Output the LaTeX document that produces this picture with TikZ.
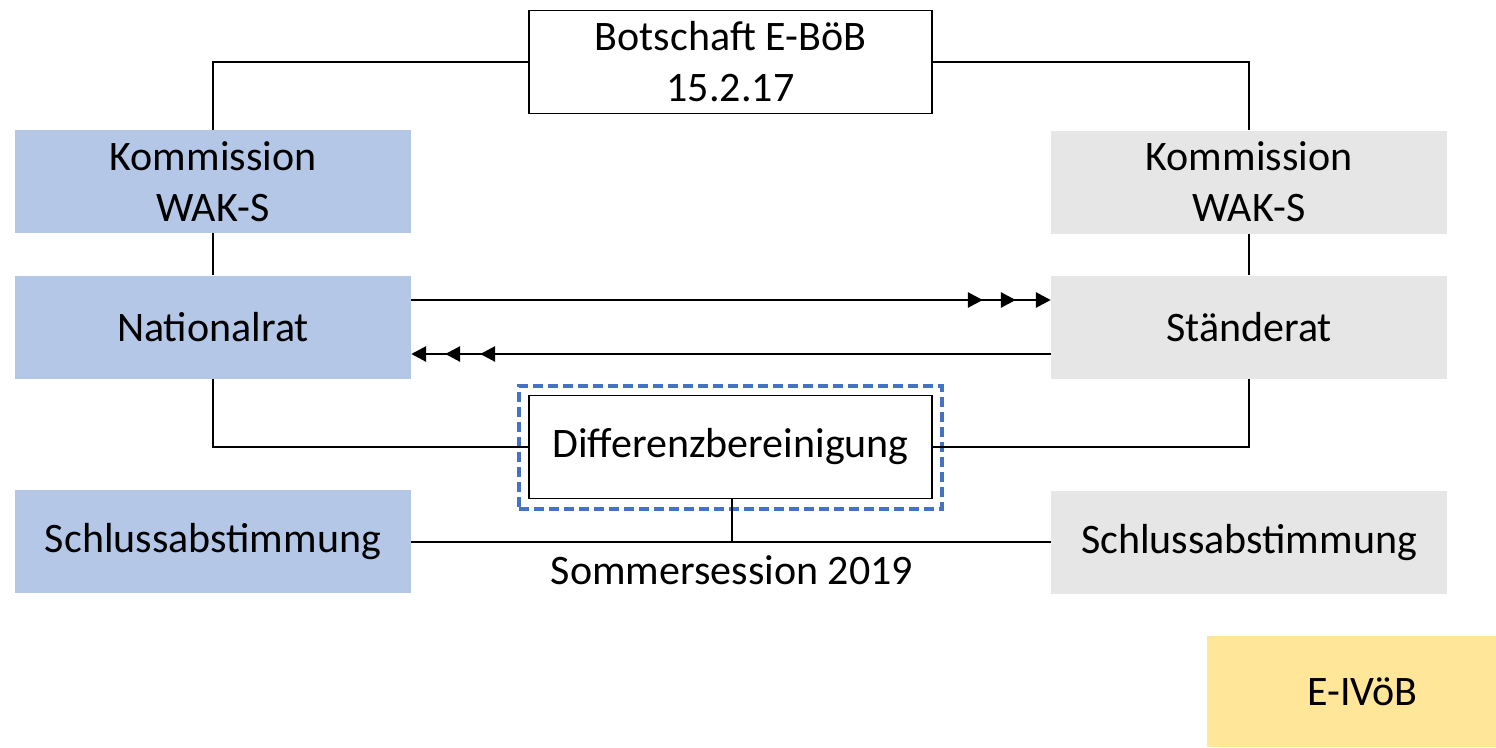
\documentclass[tikz,border=0pt]{standalone}
\usepackage{fontspec}
\setmainfont{Carlito}
\usetikzlibrary{arrows.meta,decorations.markings}
\definecolor{nrblue}{HTML}{B4C7E7}
\definecolor{srgrey}{HTML}{E7E6E6}
\definecolor{ivyellow}{HTML}{FFE699}
\definecolor{dashblue}{HTML}{4472C4}
\tikzset{
  box/.style={minimum width=396pt,minimum height=103pt,inner sep=0pt,align=center,font=\fontsize{42}{51}\selectfont},
  nrbox/.style={box,fill=nrblue},
  srbox/.style={box,fill=srgrey},
  wbox/.style={box,draw=black,line width=1.3pt,fill=white,minimum width=403pt,minimum height=103pt},
  conn/.style={line width=1.2pt,draw=black},
  flow/.style={line width=2.8pt,draw=black,
    -{Triangle[length=15pt,width=15pt]}},
  flowR/.style={flow,postaction={decorate},decoration={markings,
    mark=at position -68pt with {\arrow{Triangle[length=15pt,width=15pt]}},
    mark=at position -35pt with {\arrow{Triangle[length=15pt,width=15pt]}}}},
  flowL/.style={flow,postaction={decorate},decoration={markings,
    mark=at position -69pt with {\arrow{Triangle[length=15pt,width=15pt]}},
    mark=at position -34pt with {\arrow{Triangle[length=15pt,width=15pt]}}}}
}
\begin{document}
\begin{tikzpicture}[x=1pt,y=-1pt]
\useasboundingbox (0,0) rectangle (1496,747);
% boxes
\node[wbox] (bot) at (730.5,62) {Botschaft E-BöB\\15.2.17};
\node[nrbox] (kl) at (213,181.5) {Kommission\\WAK-S};
\node[nrbox] (nr) at (213,327) {Nationalrat};
\node[nrbox] (sl) at (213,541.5) {Schlussabstimmung};
\node[srbox] (kr) at (1249,182) {Kommission\\WAK-S};
\node[srbox] (sr) at (1249,327) {Ständerat};
\node[srbox] (srs) at (1249,542.5) {Schlussabstimmung};
\node[box,fill=ivyellow,minimum width=289pt,minimum height=111pt] (iv) at (1351.5,691.5) {\hspace*{22pt}E-IVöB};
\node[wbox] (dif) at (730.5,447) {Differenzbereinigung};
\node[draw=dashblue,line width=3.5pt,dash pattern=on 10pt off 5pt,minimum width=423pt,minimum height=123pt,inner sep=0pt] (dash) at (730.5,447.5) {};
\coordinate (jn) at (732,542);
\node[font=\fontsize{42}{51}\selectfont,inner sep=0pt] (som) at (732,570) {Sommersession 2019};
% connectors
\draw[conn] (bot.west) -| (kl.north);
\draw[conn] (bot.east) -| (kr.north);
\draw[conn] (kl.south) -- (nr.north);
\draw[conn] (kr.south) -- (sr.north);
\draw[conn] (nr.south) |- (dif.west);
\draw[conn] (sr.south) |- (dif.east);
\draw[conn] (dif.south -| jn) -- (jn);
\draw[conn] (sl.east |- jn) -- (srs.west |- jn);
% flows
\draw[flowR] (nr.east |- 0,300) -- (sr.west |- 0,300);
\draw[flowL] (sr.west |- 0,354) -- (nr.east |- 0,354);
\end{tikzpicture}
\end{document}
